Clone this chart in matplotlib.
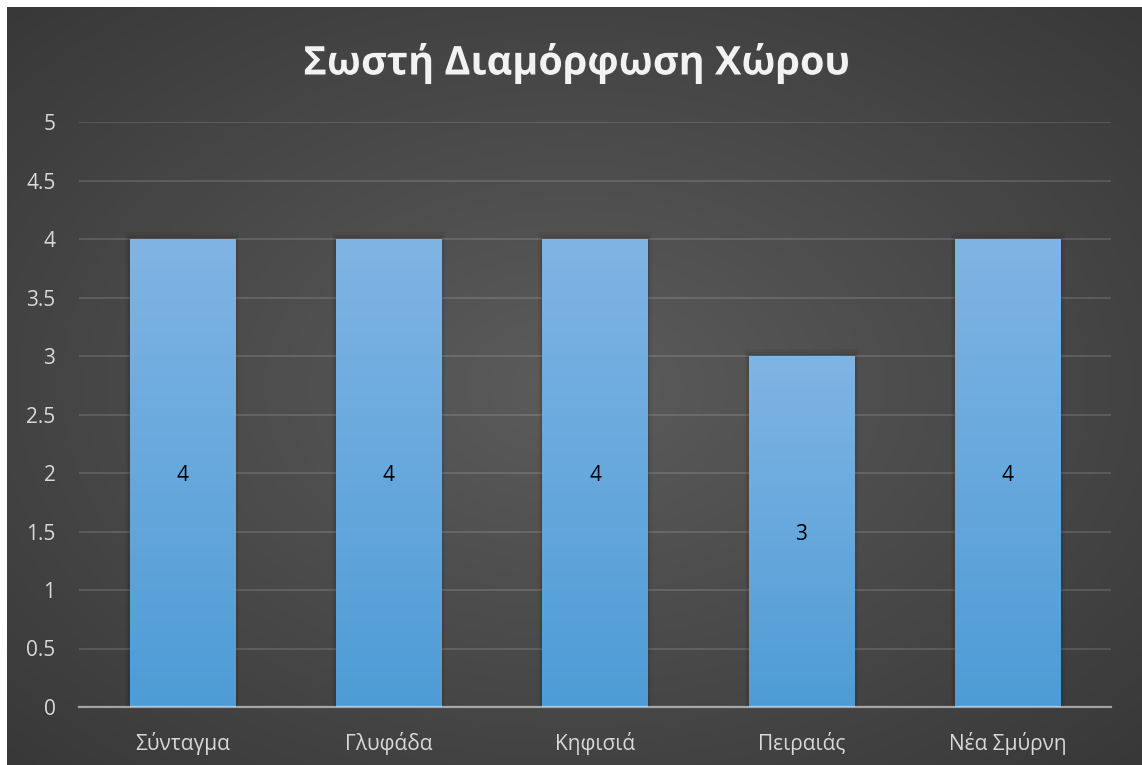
import numpy as np
import matplotlib
matplotlib.use("Agg")
import matplotlib.pyplot as plt
import matplotlib.patheffects as pe

plt.rcParams['font.family'] = ['Open Sans', 'DejaVu Sans']

title = "Σωστή Διαμόρφωση Χώρου"
categories = ["Σύνταγμα", "Γλυφάδα", "Κηφισιά", "Πειραιάς", "Νέα Σμύρνη"]
values = [4, 4, 4, 3, 4]
yticks = [0, 0.5, 1, 1.5, 2, 2.5, 3, 3.5, 4, 4.5, 5]
ytick_labels = ["0", "0.5", "1", "1.5", "2", "2.5", "3", "3.5", "4", "4.5", "5"]

W, H = 1142, 765
fig = plt.figure(figsize=(W / 100, H / 100), dpi=100)
fig.patch.set_facecolor("white")

# dark radial background
bg = fig.add_axes([7 / W, 0, 1 - 7 / W, 1 - 7 / H])
bg.set_axis_off()
yy, xx = np.mgrid[-1:1:400j, -1:1:600j]
r = np.sqrt(xx ** 2 + yy ** 2) / np.sqrt(2)
shade = 0.36 - 0.14 * r
img = np.dstack([shade, shade, shade])
bg.imshow(img, aspect="auto", extent=[0, 1, 0, 1], interpolation="bilinear")
bg.set_xlim(0, 1)
bg.set_ylim(0, 1)

ax = fig.add_axes([79 / W, 58 / H, 1032 / W, 585 / H])
ax.patch.set_alpha(0)
x = np.arange(len(categories))
bars = ax.bar(x, values, width=0.51, color="none", zorder=3)

top_c = np.array([128, 180, 228]) / 255
bot_c = np.array([78, 156, 214]) / 255
grad = np.linspace(0, 1, 256)[:, None]
grad_img = (bot_c[None, None, :] * (1 - grad[:, :, None]) + top_c[None, None, :] * grad[:, :, None])

for b, v in zip(bars, values):
    x0 = b.get_x()
    w = b.get_width()
    # soft shadow
    for k, a in [(0.02, 0.04), (0.013, 0.05), (0.006, 0.06)]:
        ax.add_patch(plt.Rectangle((x0 - k, 0), w + 2 * k, v + k * 2.8, color="black",
                                   alpha=a, zorder=2, lw=0))
    im = ax.imshow(grad_img, extent=[x0, x0 + w, 0, v], origin="lower",
                   aspect="auto", zorder=3)
    im.set_clip_path(b)
    ax.text(x0 + w / 2, v / 2, str(v), ha="center", va="center_baseline",
            fontsize=15, color="black", zorder=5)

ax.set_xlim(-0.5, len(categories) - 0.5)
ax.set_ylim(0, 5)
ax.set_yticks(yticks)
ax.set_yticklabels(ytick_labels)
ax.set_xticks(x)
ax.set_xticklabels(categories)
ax.tick_params(axis="both", length=0, colors="#d9d9d9", labelsize=15)
ax.tick_params(axis="y", pad=17)
ax.tick_params(axis="x", pad=18)
ax.grid(axis="y", color="white", alpha=0.14, lw=1.3, zorder=1)
ax.set_axisbelow(True)
for s in ["top", "right", "left"]:
    ax.spines[s].set_visible(False)
ax.spines["bottom"].set_color((1, 1, 1, 0.5))
ax.spines["bottom"].set_linewidth(1.6)
ax.spines["bottom"].set_zorder(6)

t = fig.text(577 / W, 1 - 63 / H, title, ha="center", va="center",
             fontsize=28.5, fontweight="bold", color="#f2f2f2")
t.set_path_effects([pe.SimplePatchShadow(offset=(1.5, -1.5), alpha=0.6), pe.Normal()])

fig.savefig("out.png", dpi=100, facecolor=fig.get_facecolor())
